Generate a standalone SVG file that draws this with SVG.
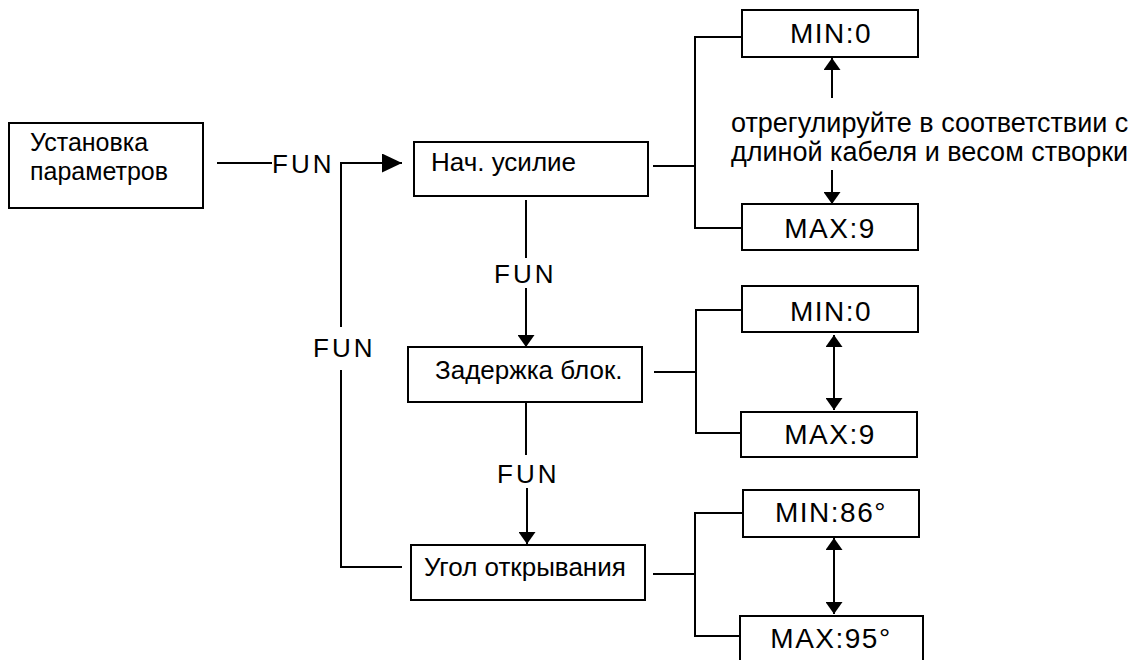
<svg xmlns="http://www.w3.org/2000/svg" width="1138" height="660" viewBox="0 0 1138 660">
<style>
text{font-family:"Liberation Sans",Arial,sans-serif;fill:#000}
.box{fill:#fff;stroke:#000;stroke-width:2}
.ln{fill:none;stroke:#000;stroke-width:2}
.t{font-size:26px}
.s{font-size:25px}
.v{font-size:28px;letter-spacing:1.5px;text-anchor:middle}
.fun{font-size:26px;letter-spacing:3px}
.note{font-size:27px}
</style>
<defs>
<marker id="ah" markerUnits="userSpaceOnUse" markerWidth="12" markerHeight="17" refX="12" refY="8.5" orient="auto-start-reverse"><path d="M0,0 L12,8.5 L0,17 z" fill="#000"/></marker>
<marker id="big" markerUnits="userSpaceOnUse" markerWidth="20" markerHeight="19" refX="20" refY="9.5" orient="auto"><path d="M0,0 L20,9.5 L0,19 z" fill="#000"/></marker>
</defs>
<rect width="1138" height="660" fill="#fff"/>
<g id="connectors">
<path class="ln" d="M217,163 H272"/>
<path class="ln" d="M341,327 V163 H402" marker-end="url(#big)"/>
<path class="ln" d="M402,567 H341 V370"/>
<path class="ln" d="M526,200 V258"/>
<path class="ln" d="M526,288 V347" marker-end="url(#ah)"/>
<path class="ln" d="M526,402 V455"/>
<path class="ln" d="M527,488 V544" marker-end="url(#ah)"/>
<path class="ln" d="M653,166 H695"/>
<path class="ln" d="M742,37 H695 V228 H742"/>
<path class="ln" d="M654,372 H696"/>
<path class="ln" d="M742,310 H696 V433 H741"/>
<path class="ln" d="M653,574 H695"/>
<path class="ln" d="M743,513 H695 V636 H740"/>
<path class="ln" d="M832,98 V58" marker-end="url(#ah)"/>
<path class="ln" d="M832,170 V204" marker-end="url(#ah)"/>
<path class="ln" d="M834,335 V410" marker-start="url(#ah)" marker-end="url(#ah)"/>
<path class="ln" d="M834,538 V614" marker-start="url(#ah)" marker-end="url(#ah)"/>
<text class="fun" x="272" y="173">FUN</text>
<text class="fun" x="494" y="283">FUN</text>
<text class="fun" x="497" y="483">FUN</text>
<text class="fun" x="313" y="357">FUN</text>
<text class="note" x="731" y="132">отрегулируйте в соответствии с</text>
<text class="note" x="731" y="161">длиной кабеля и весом створки</text>
</g>
<g id="setup">
<rect class="box" x="9" y="123" width="194" height="85"/>
<text class="s" x="30" y="151">Установка</text>
<text class="s" x="30" y="180">параметров</text>
</g>
<g id="force">
<rect class="box" x="414" y="142" width="234" height="54"/>
<text class="t" x="431" y="171">Нач. усилие</text>
</g>
<g id="delay">
<rect class="box" x="408" y="347" width="234" height="55"/>
<text class="t" x="435" y="379">Задержка блок.</text>
</g>
<g id="angle">
<rect class="box" x="411" y="545" width="234" height="55"/>
<text class="t" x="424" y="576">Угол открывания</text>
</g>
<g id="force-min">
<rect class="box" x="742" y="10" width="176" height="47"/>
<text class="v" x="831" y="43">MIN:0</text>
</g>
<g id="force-max">
<rect class="box" x="742" y="204" width="176" height="46"/>
<text class="v" x="830" y="238">MAX:9</text>
</g>
<g id="delay-min">
<rect class="box" x="742" y="286" width="176" height="46"/>
<text class="v" x="831" y="321">MIN:0</text>
</g>
<g id="delay-max">
<rect class="box" x="741" y="412" width="176" height="45"/>
<text class="v" x="830" y="444">MAX:9</text>
</g>
<g id="angle-min">
<rect class="box" x="743" y="490" width="176" height="47"/>
<text class="v" x="831" y="522">MIN:86°</text>
</g>
<g id="angle-max">
<rect class="box" x="740" y="616" width="183" height="60"/>
<text class="v" x="831" y="648">MAX:95°</text>
</g>
</svg>
